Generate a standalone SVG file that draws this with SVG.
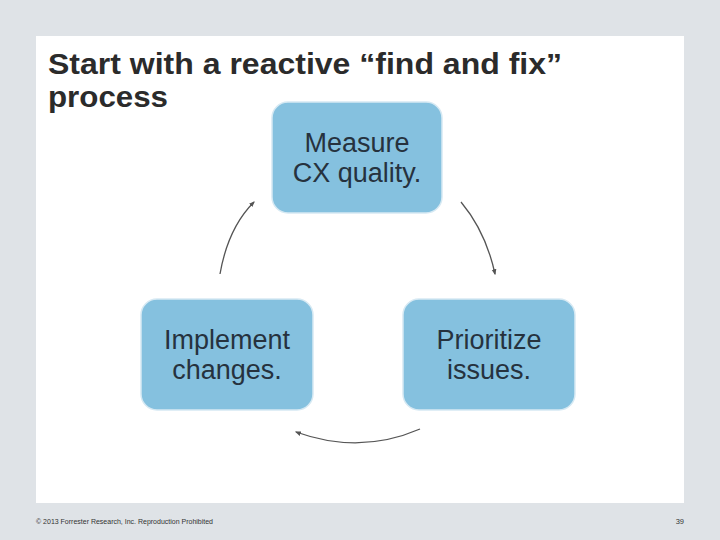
<svg xmlns="http://www.w3.org/2000/svg" width="720" height="540" viewBox="0 0 720 540">
<defs>
<style>
.box{fill:#85c1df;stroke:#d6e9f3;stroke-width:1.5}
.lbl{font-family:"Liberation Sans",Arial,sans-serif;font-size:27px;fill:#26323e;text-anchor:middle}
.conn{fill:none;stroke:#555;stroke-width:1.3;marker-end:url(#ah)}
.title{font-family:"Liberation Sans",Arial,sans-serif;font-weight:bold;font-size:30px;fill:#2b2b2b}
.foot{font-family:"Liberation Sans",Arial,sans-serif;font-size:7.5px;fill:#333}
</style>
<marker id="ah" viewBox="0 0 10 10" refX="8" refY="5" markerWidth="6" markerHeight="6" orient="auto" markerUnits="userSpaceOnUse">
<path d="M0,1 L10,5 L0,9 Z" fill="#555"/>
</marker>
</defs>
<rect x="0" y="0" width="720" height="540" fill="#dfe3e7"/>
<rect x="36" y="36" width="648" height="467" fill="#ffffff"/>
<text class="title" x="48" y="74" textLength="514" lengthAdjust="spacingAndGlyphs">Start with a reactive “find and fix”</text>
<text class="title" x="48" y="107" textLength="120" lengthAdjust="spacingAndGlyphs">process</text>
<g id="measure">
<rect class="box" x="272" y="102" width="170" height="111" rx="16"/>
<text class="lbl" x="357" y="152">Measure</text>
<text class="lbl" x="357" y="182">CX quality.</text>
</g>
<g id="implement">
<rect class="box" x="141" y="299" width="172" height="111" rx="16"/>
<text class="lbl" x="227" y="349">Implement</text>
<text class="lbl" x="227" y="379">changes.</text>
</g>
<g id="prioritize">
<rect class="box" x="403" y="299" width="172" height="111" rx="16"/>
<text class="lbl" x="489" y="349">Prioritize</text>
<text class="lbl" x="489" y="379">issues.</text>
</g>
<g id="connectors">
<path class="conn" d="M220,274 Q228,228 254,202"/>
<path class="conn" d="M461,202 Q486,232 495,274"/>
<path class="conn" d="M420,429 Q360,455 296,432"/>
</g>
<text class="foot" x="36" y="524" textLength="177" lengthAdjust="spacingAndGlyphs">© 2013 Forrester Research, Inc. Reproduction Prohibited</text>
<text class="foot" x="684" y="524" text-anchor="end">39</text>
</svg>
